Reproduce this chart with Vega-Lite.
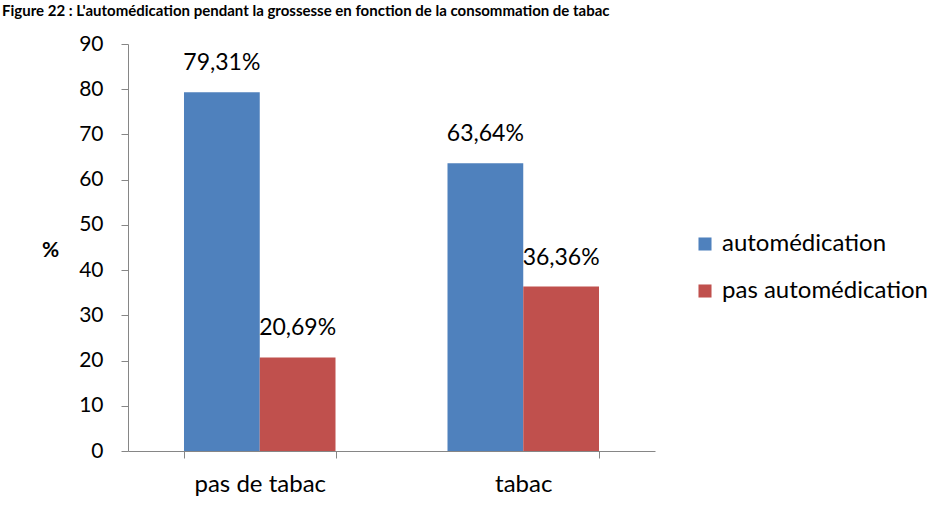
{
  "$schema": "https://vega.github.io/schema/vega-lite/v6.json",
  "autosize": "none",
  "width": 527,
  "height": 407,
  "padding": {"left": 128, "top": 44, "right": 291, "bottom": 58},
  "background": "white",
  "title": {
    "text": "Figure 22 : L'automédication pendant la grossesse en fonction de la consommation de tabac",
    "anchor": "start",
    "frame": "group",
    "dx": -126,
    "offset": 2,
    "font": "Lato",
    "fontSize": 15,
    "fontWeight": "bold",
    "color": "black",
    "baseline": "alphabetic"
  },
  "data": {
    "values": [
      {"cat": "pas de tabac", "serie": "automédication", "val": 79.31, "lab": "79,31%"},
      {"cat": "pas de tabac", "serie": "pas automédication", "val": 20.69, "lab": "20,69%"},
      {"cat": "tabac", "serie": "automédication", "val": 63.64, "lab": "63,64%"},
      {"cat": "tabac", "serie": "pas automédication", "val": 36.36, "lab": "36,36%"}
    ]
  },
  "encoding": {
    "x": {
      "field": "cat", "type": "nominal", "sort": null,
      "scale": {"paddingInner": 0.425, "paddingOuter": 0.2125},
      "axis": {
        "title": null, "labelAngle": 0, "labelFont": "Lato", "labelFontSize": 24,
        "labelColor": "black", "domainColor": "#868686", "tickColor": "#868686",
        "tickBand": "extent", "tickSize": 7, "labelPadding": 14
      }
    },
    "xOffset": {"field": "serie", "type": "nominal", "sort": null},
    "y": {
      "field": "val", "type": "quantitative",
      "scale": {"domain": [0, 90], "nice": false},
      "axis": {
        "title": "%", "titleAngle": 0, "titleFont": "Lato", "titleFontSize": 21,
        "titleFontWeight": "bold", "titleColor": "black", "titleX": -78, "titleY": 216,
        "values": [0, 10, 20, 30, 40, 50, 60, 70, 80, 90],
        "grid": false, "labelFont": "Lato", "labelFontSize": 21, "labelColor": "black",
        "domainColor": "#868686", "tickColor": "#868686", "tickSize": 7, "labelPadding": 18
      }
    }
  },
  "layer": [
    {
      "mark": {"type": "bar"},
      "encoding": {
        "color": {
          "field": "serie", "type": "nominal", "sort": null,
          "scale": {"domain": ["automédication", "pas automédication"], "range": ["#4F81BD", "#C0504D"]},
          "legend": {
            "title": null, "orient": "none", "legendX": 565, "legendY": 188,
            "symbolType": "square", "symbolSize": 170, "symbolStrokeWidth": 0,
            "labelFont": "Lato", "labelFontSize": 24, "labelColor": "black", "labelLimit": 0,
            "rowPadding": 23, "labelOffset": 5
          }
        }
      }
    },
    {
      "mark": {"type": "text", "baseline": "middle", "dy": -29, "font": "Lato", "fontSize": 23, "color": "black"},
      "encoding": {"text": {"field": "lab"}}
    }
  ],
  "config": {"view": {"stroke": null}}
}
